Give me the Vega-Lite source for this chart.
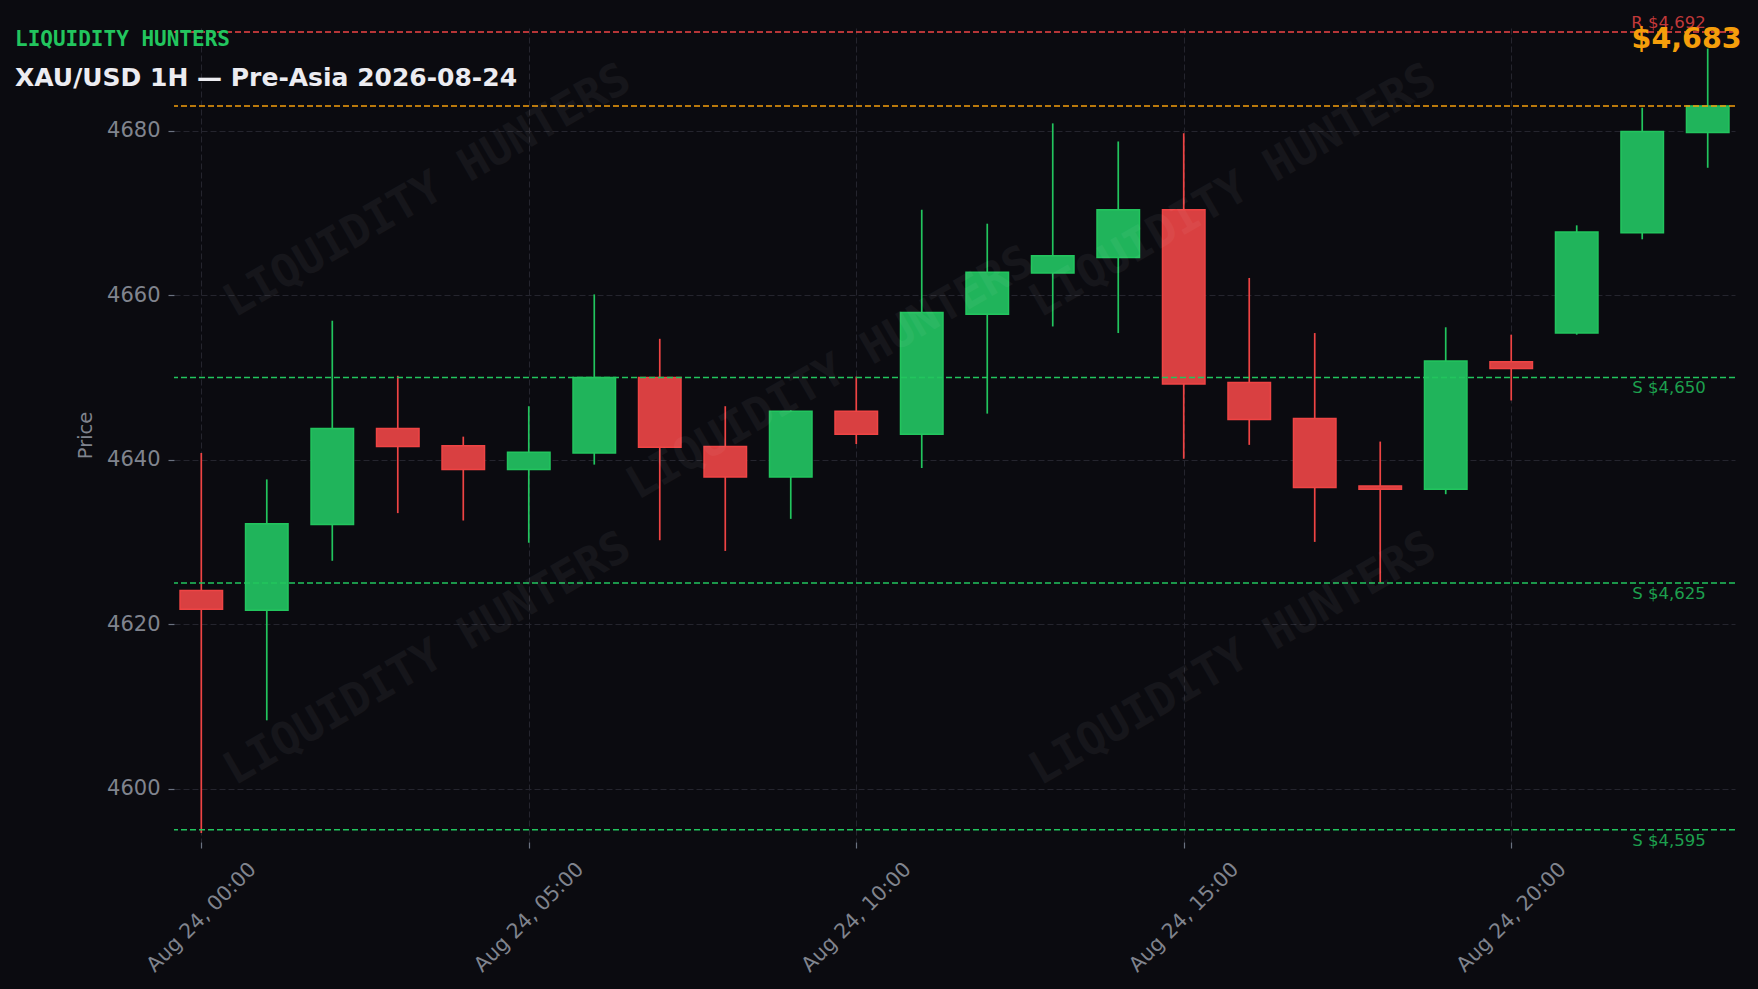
{
  "$schema": "https://vega.github.io/schema/vega-lite/v6.json",
  "width": 1561,
  "height": 814,
  "autosize": {"type": "none"},
  "padding": {"left": 174, "top": 28, "right": 23, "bottom": 147},
  "background": "#0b0b10",
  "config": {"view": {"stroke": null}, "font": "DejaVu Sans"},
  "title": {
    "text": "LIQUIDITY HUNTERS",
    "subtitle": "XAU/USD 1H — Pre-Asia 2026-08-24",
    "anchor": "start",
    "frame": "group",
    "orient": "top",
    "offset": -76,
    "dx": -159,
    "font": "DejaVu Sans Mono",
    "fontSize": 21,
    "fontWeight": "bold",
    "color": "#22c55e",
    "subtitleFont": "DejaVu Sans",
    "subtitleFontSize": 25,
    "subtitleFontWeight": "bold",
    "subtitleColor": "#ececf1",
    "subtitlePadding": 16
  },
  "datasets": {
    "candles": [
      {"time": "2026-08-24T00:00:00", "open": 4624.1, "high": 4640.8, "low": 4594.6, "close": 4621.8},
      {"time": "2026-08-24T01:00:00", "open": 4621.7, "high": 4637.6, "low": 4608.3, "close": 4632.2},
      {"time": "2026-08-24T02:00:00", "open": 4632.1, "high": 4656.9, "low": 4627.7, "close": 4643.8},
      {"time": "2026-08-24T03:00:00", "open": 4643.8, "high": 4650.2, "low": 4633.5, "close": 4641.6},
      {"time": "2026-08-24T04:00:00", "open": 4641.7, "high": 4642.8, "low": 4632.6, "close": 4638.8},
      {"time": "2026-08-24T05:00:00", "open": 4638.8, "high": 4646.5, "low": 4629.9, "close": 4640.9},
      {"time": "2026-08-24T06:00:00", "open": 4640.8, "high": 4660.1, "low": 4639.4, "close": 4650.0},
      {"time": "2026-08-24T07:00:00", "open": 4650.0, "high": 4654.7, "low": 4630.2, "close": 4641.5},
      {"time": "2026-08-24T08:00:00", "open": 4641.6, "high": 4646.5, "low": 4628.9, "close": 4637.9},
      {"time": "2026-08-24T09:00:00", "open": 4637.9, "high": 4646.0, "low": 4632.8, "close": 4645.9},
      {"time": "2026-08-24T10:00:00", "open": 4645.9, "high": 4650.1, "low": 4641.9, "close": 4643.1},
      {"time": "2026-08-24T11:00:00", "open": 4643.1, "high": 4670.4, "low": 4639.0, "close": 4657.9},
      {"time": "2026-08-24T12:00:00", "open": 4657.7, "high": 4668.7, "low": 4645.6, "close": 4662.8},
      {"time": "2026-08-24T13:00:00", "open": 4662.7, "high": 4680.9, "low": 4656.2, "close": 4664.8},
      {"time": "2026-08-24T14:00:00", "open": 4664.6, "high": 4678.7, "low": 4655.4, "close": 4670.4},
      {"time": "2026-08-24T15:00:00", "open": 4670.4, "high": 4679.7, "low": 4640.1, "close": 4649.2},
      {"time": "2026-08-24T16:00:00", "open": 4649.4, "high": 4662.1, "low": 4641.8, "close": 4644.9},
      {"time": "2026-08-24T17:00:00", "open": 4645.0, "high": 4655.4, "low": 4630.0, "close": 4636.6},
      {"time": "2026-08-24T18:00:00", "open": 4636.8, "high": 4642.2, "low": 4625.0, "close": 4636.4},
      {"time": "2026-08-24T19:00:00", "open": 4636.4, "high": 4656.1, "low": 4635.8, "close": 4652.0},
      {"time": "2026-08-24T20:00:00", "open": 4651.9, "high": 4655.2, "low": 4647.2, "close": 4651.1},
      {"time": "2026-08-24T21:00:00", "open": 4655.4, "high": 4668.5, "low": 4655.2, "close": 4667.7},
      {"time": "2026-08-24T22:00:00", "open": 4667.6, "high": 4682.8, "low": 4666.8, "close": 4679.9},
      {"time": "2026-08-24T23:00:00", "open": 4679.8, "high": 4690.0, "low": 4675.5, "close": 4683.0}
    ],
    "levels": [
      {"price": 4692, "kind": "R", "label": "R $4,692"},
      {"price": 4650, "kind": "S", "label": "S $4,650"},
      {"price": 4625, "kind": "S", "label": "S $4,625"},
      {"price": 4595, "kind": "S", "label": "S $4,595"}
    ],
    "last": [
      {"price": 4683, "label": "$4,683"}
    ],
    "watermarks": [
      {"time": "2026-08-24T03:27:00", "price": 4672.7},
      {"time": "2026-08-24T15:45:00", "price": 4672.7},
      {"time": "2026-08-24T09:36:00", "price": 4650.5},
      {"time": "2026-08-24T03:27:00", "price": 4615.8},
      {"time": "2026-08-24T15:45:00", "price": 4615.8}
    ]
  },
  "layer": [
    {
      "data": {"name": "candles"},
      "mark": {"type": "rule", "strokeWidth": 1.7},
      "encoding": {
        "x": {
          "field": "time",
          "type": "temporal",
          "title": null,
          "scale": {
            "type": "time",
            "padding": 0,
            "domain": [
              {"year": 2026, "month": 8, "date": 23, "hours": 23, "minutes": 35},
              {"year": 2026, "month": 8, "date": 24, "hours": 23, "minutes": 25}
            ]
          },
          "axis": {
            "values": [
              {"year": 2026, "month": 8, "date": 24, "hours": 0},
              {"year": 2026, "month": 8, "date": 24, "hours": 5},
              {"year": 2026, "month": 8, "date": 24, "hours": 10},
              {"year": 2026, "month": 8, "date": 24, "hours": 15},
              {"year": 2026, "month": 8, "date": 24, "hours": 20}
            ],
            "format": "%b %d, %H:%M",
            "labelAngle": -45,
            "labelAlign": "center",
            "labelBaseline": "middle",
            "labelPadding": 69,
            "labelFont": "DejaVu Sans",
            "labelFontSize": 20.5,
            "labelColor": "#80848e",
            "labelOverlap": false,
            "labelFlush": false,
            "labelBound": false,
            "domain": false,
            "tickColor": "#6b7280",
            "tickSize": 6,
            "tickWidth": 1.2,
            "grid": true,
            "gridColor": "#25252e",
            "gridDash": [6, 3],
            "gridWidth": 1
          }
        },
        "y": {
          "field": "low",
          "type": "quantitative",
          "title": "Price",
          "scale": {"domain": [4593.5, 4692.5], "nice": false, "zero": false, "padding": 0},
          "axis": {
            "values": [4600, 4620, 4640, 4660, 4680],
            "format": "d",
            "labelFont": "DejaVu Sans",
            "labelFontSize": 21,
            "labelColor": "#80848e",
            "labelPadding": 8,
            "domain": false,
            "tickColor": "#6b7280",
            "tickSize": 6,
            "tickWidth": 1.2,
            "grid": true,
            "gridColor": "#25252e",
            "gridDash": [6, 3],
            "gridWidth": 1,
            "titleFont": "DejaVu Sans",
            "titleFontSize": 19.5,
            "titleFontWeight": "normal",
            "titleColor": "#80848e",
            "titlePadding": 11
          }
        },
        "y2": {"field": "high"},
        "stroke": {"condition": {"test": "datum.close >= datum.open", "value": "#22c55e"}, "value": "#ef4444"}
      }
    },
    {
      "data": {"name": "candles"},
      "mark": {"type": "bar", "width": 42.5, "strokeWidth": 1.5},
      "encoding": {
        "x": {"field": "time", "type": "temporal", "title": null},
        "y": {"field": "open", "type": "quantitative", "title": "Price"},
        "y2": {"field": "close"},
        "fill": {"condition": {"test": "datum.close >= datum.open", "value": "#20b45b"}, "value": "#d94041"},
        "stroke": {"condition": {"test": "datum.close >= datum.open", "value": "#22c55e"}, "value": "#ef4444"}
      }
    },
    {
      "data": {"name": "levels"},
      "mark": {"type": "rule", "strokeWidth": 1.5, "strokeDash": [6, 3]},
      "encoding": {
        "y": {"field": "price", "type": "quantitative", "title": "Price"},
        "stroke": {"condition": {"test": "datum.kind === 'R'", "value": "#ef4444"}, "value": "#22c55e"}
      }
    },
    {
      "data": {"name": "last"},
      "mark": {"type": "rule", "strokeWidth": 1.5, "strokeDash": [6, 3], "stroke": "#f59e0b"},
      "encoding": {
        "y": {"field": "price", "type": "quantitative", "title": "Price"}
      }
    },
    {
      "data": {"name": "levels"},
      "transform": [{"filter": "datum.kind === 'R'"}],
      "mark": {"type": "text", "align": "right", "baseline": "alphabetic", "dy": -4, "dx": -2, "fontSize": 16.5, "font": "DejaVu Sans", "fill": "#c1393a"},
      "encoding": {
        "x": {"datum": {"year": 2026, "month": 8, "date": 24, "hours": 23}, "type": "temporal"},
        "y": {"field": "price", "type": "quantitative", "title": "Price"},
        "text": {"field": "label"}
      }
    },
    {
      "data": {"name": "levels"},
      "transform": [{"filter": "datum.kind === 'S'"}],
      "mark": {"type": "text", "align": "right", "baseline": "top", "dy": 3, "dx": -2, "fontSize": 16.5, "font": "DejaVu Sans", "fill": "#1da04e"},
      "encoding": {
        "x": {"datum": {"year": 2026, "month": 8, "date": 24, "hours": 23}, "type": "temporal"},
        "y": {"field": "price", "type": "quantitative", "title": "Price"},
        "text": {"field": "label"}
      }
    },
    {
      "data": {"name": "last"},
      "mark": {"type": "text", "align": "right", "baseline": "alphabetic", "fontSize": 28.5, "fontWeight": "bold", "font": "DejaVu Sans", "fill": "#f59e0b"},
      "encoding": {
        "x": {"datum": {"year": 2026, "month": 8, "date": 24, "hours": 23, "minutes": 31}, "type": "temporal"},
        "y": {"datum": 4690.1, "type": "quantitative"},
        "text": {"field": "label"}
      }
    },
    {
      "data": {"name": "watermarks"},
      "mark": {"type": "text", "text": "LIQUIDITY HUNTERS", "angle": -30, "align": "center", "baseline": "middle", "fontSize": 45, "fontWeight": "bold", "font": "DejaVu Sans Mono", "fill": "#ffffff", "opacity": 0.045},
      "encoding": {
        "x": {"field": "time", "type": "temporal", "title": null},
        "y": {"field": "price", "type": "quantitative", "title": "Price"}
      }
    }
  ]
}
